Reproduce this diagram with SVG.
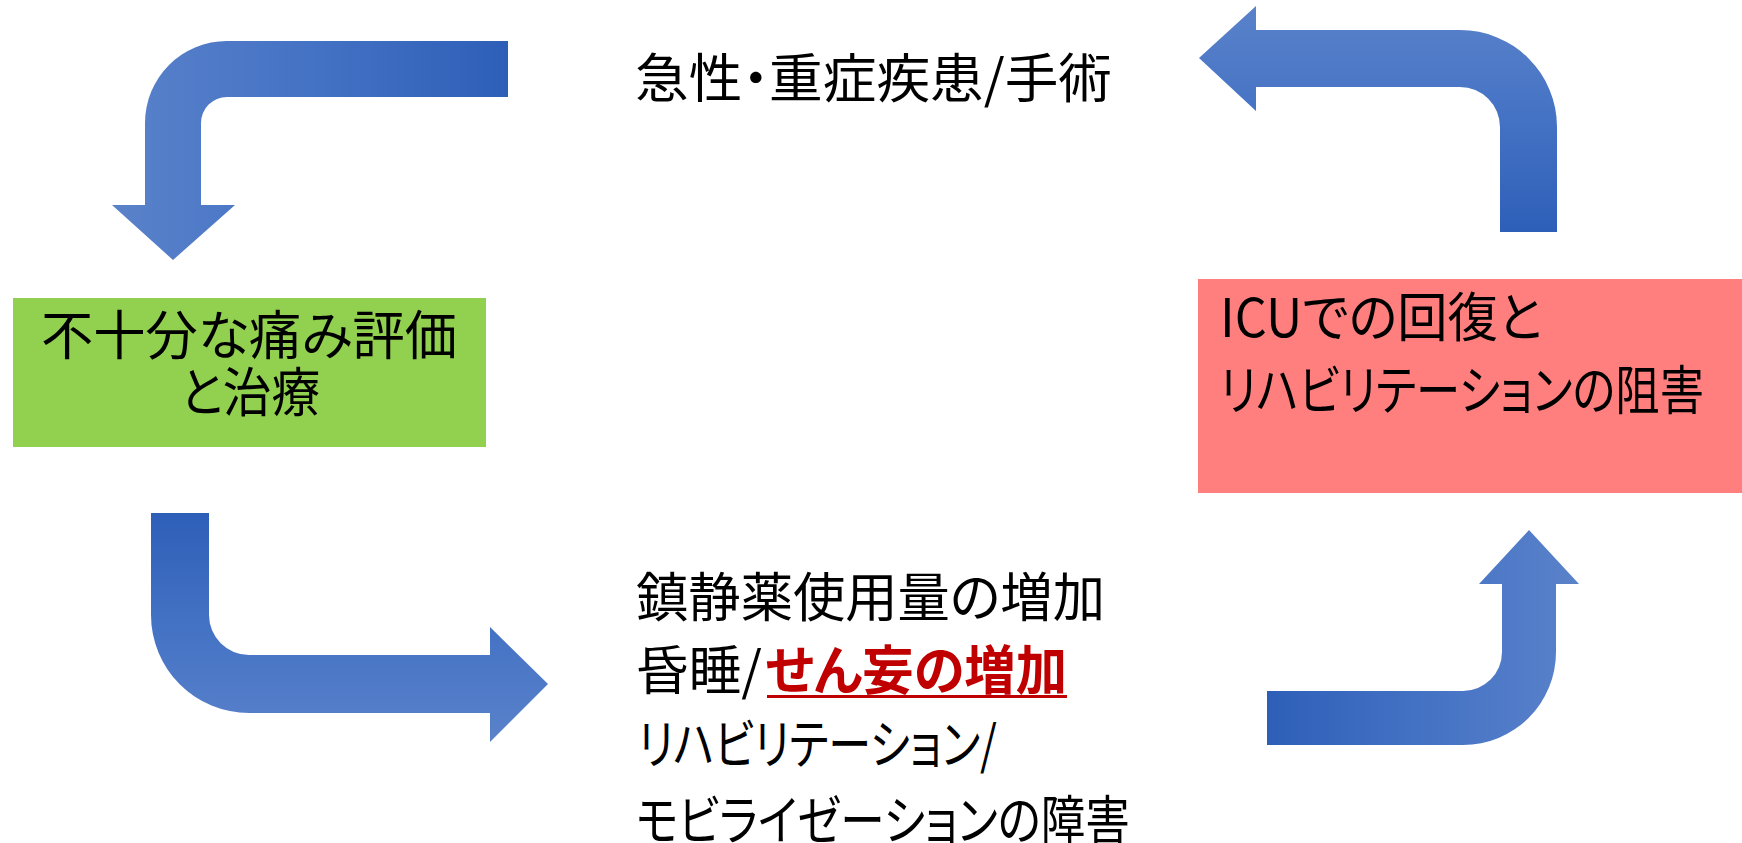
<svg xmlns="http://www.w3.org/2000/svg" width="1742" height="843" viewBox="0 0 1742 843">
  <style>
    .t { font-family: "Noto Sans CJK JP", "Noto Sans", sans-serif; font-size: 53px; fill: #000000; font-feature-settings: "palt"; }
    .red { fill: #C00000; font-weight: bold; }
    .arrow { stroke: none; }
  </style>
  <defs>
    <linearGradient id="gH" gradientUnits="userSpaceOnUse" x1="112" y1="0" x2="508" y2="0">
      <stop offset="0" stop-color="#5A82CA"/>
      <stop offset="0.5" stop-color="#4472C4"/>
      <stop offset="1" stop-color="#2E5FB8"/>
    </linearGradient>
    <linearGradient id="gTR" gradientUnits="userSpaceOnUse" x1="0" y1="6" x2="0" y2="232">
      <stop offset="0" stop-color="#5A82CA"/>
      <stop offset="0.5" stop-color="#4472C4"/>
      <stop offset="1" stop-color="#2E5FB8"/>
    </linearGradient>
    <linearGradient id="gBL" gradientUnits="userSpaceOnUse" x1="0" y1="513" x2="0" y2="742">
      <stop offset="0" stop-color="#2E5FB8"/>
      <stop offset="0.5" stop-color="#4472C4"/>
      <stop offset="1" stop-color="#5A82CA"/>
    </linearGradient>
    <linearGradient id="gBR" gradientUnits="userSpaceOnUse" x1="1267" y1="0" x2="1579" y2="0">
      <stop offset="0" stop-color="#2E5FB8"/>
      <stop offset="0.5" stop-color="#4472C4"/>
      <stop offset="1" stop-color="#5A82CA"/>
    </linearGradient>
  </defs>

  <g id="connectors">
    <path id="arrow-top-left" class="arrow" fill="url(#gH)" d="M508,41 L227,41 A82,82 0 0 0 145,123 L145,205 L112,205 L173,260 L235,205 L201,205 L201,123 A26,26 0 0 1 227,97 L508,97 Z"/>
    <path id="arrow-top-right" class="arrow" fill="url(#gTR)" d="M1199,58 L1256,6 L1256,30 L1460,30 A97,97 0 0 1 1557,127 L1557,232 L1500,232 L1500,127 A40,40 0 0 0 1460,87 L1256,87 L1256,111 Z"/>
    <path id="arrow-bottom-left" class="arrow" fill="url(#gBL)" d="M151,513 L209,513 L209,615 A40,40 0 0 0 249,655 L490,655 L490,627 L548,684 L490,742 L490,713 L249,713 A98,98 0 0 1 151,615 Z"/>
    <path id="arrow-bottom-right" class="arrow" fill="url(#gBR)" d="M1267,691 L1463,691 A39,39 0 0 0 1502,652 L1502,584 L1479,584 L1529,530 L1579,584 L1556,584 L1556,652 A93,93 0 0 1 1463,745 L1267,745 Z"/>
  </g>

  <g id="node-acute">
    <text class="t" x="635" y="98" textLength="477" lengthAdjust="spacingAndGlyphs">急性・重症疾患/手術</text>
  </g>

  <g id="node-pain">
    <rect x="13" y="298" width="473" height="149" fill="#92D050"/>
    <text class="t" x="41" y="355" textLength="416" lengthAdjust="spacingAndGlyphs">不十分な痛み評価</text>
    <text class="t" x="180" y="412" textLength="140" lengthAdjust="spacingAndGlyphs">と治療</text>
  </g>

  <g id="node-icu">
    <rect x="1198" y="279" width="544" height="214" fill="#FF7F7F"/>
    <text class="t" x="1220" y="337" textLength="322" lengthAdjust="spacingAndGlyphs">ICUでの回復と</text>
    <text class="t" x="1220" y="410" textLength="484" lengthAdjust="spacingAndGlyphs">リハビリテーションの阻害</text>
  </g>

  <g id="node-sedation">
    <text class="t" x="636" y="617" textLength="469" lengthAdjust="spacingAndGlyphs">鎮静薬使用量の増加</text>
    <text class="t" x="636" y="690" textLength="126" lengthAdjust="spacingAndGlyphs">昏睡/</text>
    <text class="t red" x="766" y="690" textLength="301" lengthAdjust="spacingAndGlyphs">せん妄の増加</text>
    <rect x="767" y="695" width="300" height="3" fill="#C00000"/>
    <text class="t" x="638" y="764" textLength="359" lengthAdjust="spacingAndGlyphs">リハビリテーション/</text>
    <text class="t" x="636" y="840" textLength="494" lengthAdjust="spacingAndGlyphs">モビライゼーションの障害</text>
  </g>
</svg>
